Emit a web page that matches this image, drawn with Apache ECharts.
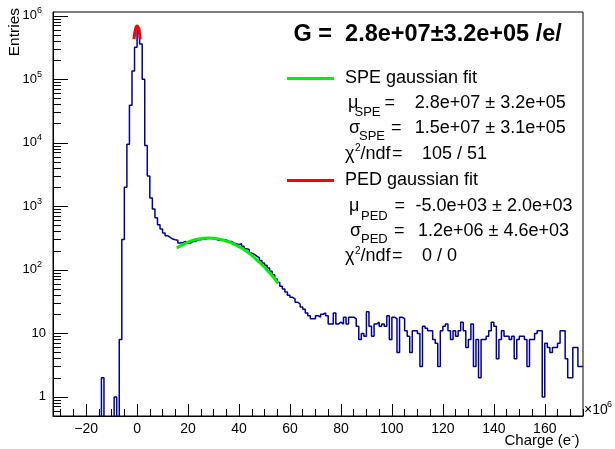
<!DOCTYPE html>
<html><head><meta charset="utf-8">
<script src="https://cdn.jsdelivr.net/npm/echarts@6/dist/echarts.min.js"></script>
<style>html,body{margin:0;padding:0;background:#fff}#c{width:615px;height:449px}</style>
</head><body><div id="c"></div>
<script>
// Charge in units of 1e6 e-, bins of width 1 starting at -33
const BIN_START = -33;
const BIN_WIDTH = 1;
const counts = [
  0,0,0,0,0,0,0,0,0,0,
  0,0,0,0,0,0,0,0,0,2,
  0,0,0,0,1,0,8,300,2000,9500,
  39000,135000,320000,640000,360000,100000,9100,3000,1350,910,
  660,515,440,380,345,325,306,298,292,265,
  270,280,265,265,280,280,298,298,306,306,
  318,318,306,306,292,292,298,298,280,280,
  265,258,249,258,235,215,210,184,175,164,
  154,140,128,118,107,95,84,72,63,55,
  50,45,40,37,35,31,29,26,24,21,
  19,17,17,19,18,20,21,19,14,14,
  21,14,15,14,18,14,18,18,17,13,
  8,10,9,22,13,9,14,15,13,14,
  13,19,8,18,17,5,18,17,11,9,
  5,11,11,10,3,13,12,11,11,8,
  7,3,11,13,14,11,8,11,9,11,
  15,11,6,8,14,3,8,2,8,8,
  9,11,15,13,4,8,11,9,9,8,
  9,4,8,9,9,8,3,8,8,10,
  11,11,1,7,6,5,6,6,7,11,
  11,4,2,2,6,6,3,3
];
// fit curves
const speFitX = [15.6, 20, 24, 28, 32, 36, 40, 44, 48, 52, 55.3];
const speFitY = [222, 274, 305, 317, 306, 276, 232, 182, 132, 90, 62];
const pedFitX = [-1.2, -0.8, -0.4, 0, 0.4, 0.8, 1.2];
const pedFitY = [430000, 570000, 660000, 690000, 660000, 570000, 430000];

const xTickLabels = [-20, 0, 20, 40, 60, 80, 100, 120, 140, 160];
const xMinorTicks = [-30,-25,-15,-10,-5,5,10,15,25,30,35,45,50,55,65,70,75,85,90,95,105,110,115,125,130,135,145,150,155,165,170,175];
const yMajorTicks = [1, 10, 100, 1000, 10000, 100000, 1000000];
const yMinorTicks = [0.6,0.7,0.8,0.9,
  2,3,4,5,6,7,8,9, 20,30,40,50,60,70,80,90, 200,300,400,500,600,700,800,900,
  2000,3000,4000,5000,6000,7000,8000,9000, 20000,30000,40000,50000,60000,70000,80000,90000,
  200000,300000,400000,500000,600000,700000,800000,900000];

const X_MIN = -33, X_MAX = 175, Y_MIN = 0.5, Y_MAX = 1.15e6;
const FONT = 'Liberation Sans, Arial, Helvetica, sans-serif';
const HIST_COLOR = '#000099';

// histogram outline points (empty bins pushed below the frame and clipped)
const histData = counts.map((c, i) => [BIN_START + i * BIN_WIDTH, c > 0 ? c : 0.2]);
histData.push([BIN_START + counts.length * BIN_WIDTH, counts[counts.length - 1] > 0 ? counts[counts.length - 1] : 0.2]);
const speData = speFitX.map((x, i) => [x, speFitY[i]]);
const pedData = pedFitX.map((x, i) => [x, pedFitY[i]]);

function yLabel(v) {
  if (v === 1) return '1';
  if (v === 10) return '10';
  const e = Math.round(Math.log10(v));
  return '{b|10}{e|' + e + '}';
}
function xLabel(v) { return v < 0 ? '\u2212' + Math.abs(v) : String(v); }

function txt(x, y, text, extra) {
  return { type: 'text', x: x, y: y, z: 100, silent: true,
    style: Object.assign({ text: text, fill: '#000', fontFamily: FONT, fontSize: 18,
      align: 'left', verticalAlign: 'middle' }, extra || {}) };
}
function hline(x1, x2, y, color) {
  return { type: 'line', z: 100, silent: true, shape: { x1: x1, y1: y, x2: x2, y2: y },
    style: { stroke: color, lineWidth: 3 } };
}

const graphics = [
  txt(293.5, 35, 'G =  2.8e+07\u00b13.2e+05 /e/', { fontSize: 23.5, fontWeight: 'bold' }),
  hline(287, 334, 78.5, '#00ee00'),
  txt(345, 78.5, 'SPE gaussian fit'),
  txt(348, 103.5, '\u03bc'), txt(354.5, 112.5, 'SPE', { fontSize: 13 }), txt(384.5, 103.5, '='),
  txt(414.8, 103.5, '2.8e+07 \u00b1 3.2e+05'),
  txt(349, 128.5, '\u03c3'), txt(359, 136, 'SPE', { fontSize: 13 }), txt(391, 128.5, '='),
  txt(414.8, 128.5, '1.5e+07 \u00b1 3.1e+05'),
  txt(345, 154, '\u03c7'), txt(355, 148.5, '2', { fontSize: 10 }), txt(360.5, 154, '/ndf'), txt(392, 154, '='),
  txt(422, 154, '105 / 51'),
  hline(287, 334, 180.5, '#ff0000'),
  txt(345, 180.5, 'PED gaussian fit'),
  txt(349, 206, '\u03bc'), txt(361, 216, 'PED', { fontSize: 13 }), txt(394.6, 206, '='),
  txt(415.5, 206, '-5.0e+03 \u00b1 2.0e+03'),
  txt(350, 231, '\u03c3'), txt(361, 239, 'PED', { fontSize: 13 }), txt(394, 231, '='),
  txt(418, 231, '1.2e+06 \u00b1 4.6e+03'),
  txt(345, 256.5, '\u03c7'), txt(355, 251, '2', { fontSize: 10 }), txt(360.5, 256.5, '/ndf'), txt(392, 256.5, '='),
  txt(422, 256.5, '0 / 0'),
  // axis titles
  { type: 'text', x: 14.5, y: 8, rotation: Math.PI / 2, z: 100, silent: true,
    style: { text: 'Entries', fill: '#000', fontFamily: FONT, fontSize: 15.5, align: 'right', verticalAlign: 'middle' } },
  txt(579.5, 441, 'Charge (e{s|-})', { fontSize: 15, align: 'right',
    rich: { s: { fontSize: 10, fontFamily: FONT, padding: [0, 0, 9, 0] } } }),
  txt(584, 410.5, '\u00d710', { fontSize: 14 }),
  txt(607, 405, '6', { fontSize: 9 })
];

const chart = echarts.init(document.getElementById('c'), null, { renderer: 'canvas' });
chart.setOption({
  animation: false,
  backgroundColor: '#fff',
  grid: { left: 53, top: 12, width: 530, height: 404, show: true, borderColor: '#000', borderWidth: 1, backgroundColor: 'transparent' },
  xAxis: [
    { type: 'value', min: X_MIN, max: X_MAX, position: 'bottom',
      axisLine: { show: true, onZero: false, lineStyle: { color: '#000', width: 1 } },
      axisTick: { show: true, inside: true, length: 12, customValues: xTickLabels, lineStyle: { color: '#000' } },
      axisLabel: { show: true, customValues: xTickLabels, formatter: xLabel, margin: 6, color: '#000', fontFamily: FONT, fontSize: 14 },
      splitLine: { show: false } },
    { type: 'value', min: X_MIN, max: X_MAX, position: 'bottom',
      axisLine: { show: false, onZero: false },
      axisTick: { show: true, inside: true, length: 7, customValues: xMinorTicks, lineStyle: { color: '#000' } },
      axisLabel: { show: false }, splitLine: { show: false } }
  ],
  yAxis: [
    { type: 'log', logBase: 10, min: Y_MIN, max: Y_MAX, position: 'left',
      axisLine: { show: true, onZero: false, lineStyle: { color: '#000', width: 1 } },
      axisTick: { show: true, inside: true, length: 15, customValues: yMajorTicks, lineStyle: { color: '#000' } },
      axisLabel: { show: true, customValues: yMajorTicks, formatter: yLabel, margin: 7, color: '#000', fontFamily: FONT, fontSize: 13,
        rich: { b: { fontSize: 13, fontFamily: FONT, color: '#000' },
                e: { fontSize: 9, fontFamily: FONT, color: '#000', padding: [0, 4, 10, 0] } } },
      splitLine: { show: false } },
    { type: 'log', logBase: 10, min: Y_MIN, max: Y_MAX, position: 'left',
      axisLine: { show: false, onZero: false },
      axisTick: { show: true, inside: true, length: 8, customValues: yMinorTicks, lineStyle: { color: '#000' } },
      axisLabel: { show: false }, splitLine: { show: false } }
  ],
  series: [
    { type: 'line', name: 'hist', xAxisIndex: 0, yAxisIndex: 0, data: histData, step: 'end',
      showSymbol: false, symbol: 'none', clip: true, z: 3,
      lineStyle: { color: HIST_COLOR, width: 1.5 } },
    { type: 'line', name: 'SPE gaussian fit', xAxisIndex: 0, yAxisIndex: 0, data: speData, smooth: true,
      showSymbol: false, symbol: 'none', z: 4, lineStyle: { color: '#00ee00', width: 3 } },
    { type: 'line', name: 'PED gaussian fit', xAxisIndex: 0, yAxisIndex: 0, data: pedData, smooth: true,
      showSymbol: false, symbol: 'none', z: 4, lineStyle: { color: '#ff0000', width: 3 } }
  ],
  graphic: graphics
});
</script>
</body></html>
